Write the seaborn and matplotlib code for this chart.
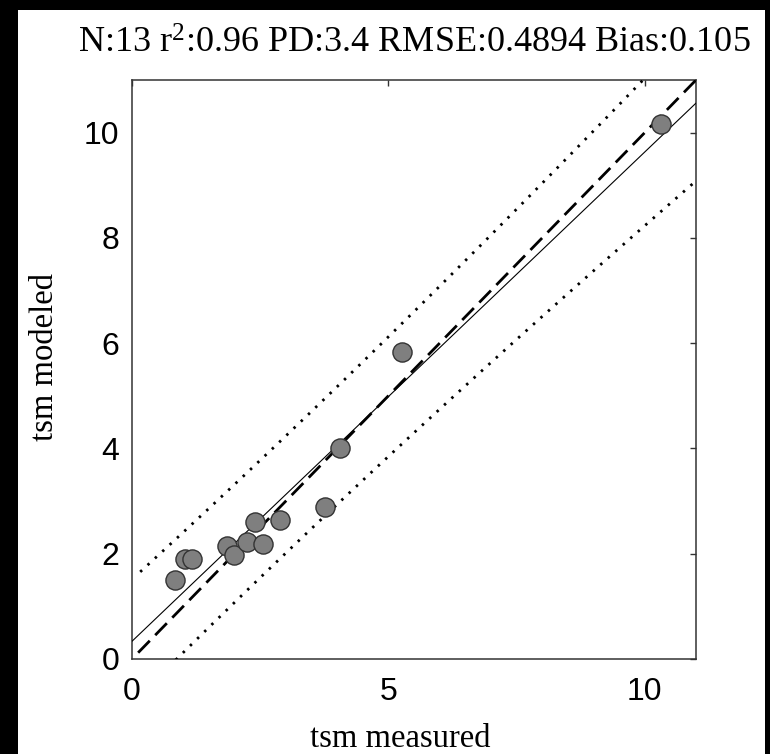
import numpy as np
import pandas as pd
import matplotlib
matplotlib.use("Agg")
import matplotlib.pyplot as plt
from matplotlib.patches import Rectangle
import seaborn as sns

# ---- data ----
measured = [0.84, 1.04, 1.17, 1.86, 1.99, 2.24, 2.40, 2.56, 2.89, 3.77, 4.06, 5.27, 10.31]
modeled = [1.50, 1.90, 1.90, 2.14, 1.97, 2.22, 2.60, 2.18, 2.64, 2.88, 4.00, 5.83, 10.17]
title_text = r"N:13 r$^{2}$:0.96 PD:3.4 RMSE:0.4894 Bias:0.105"
x_label = "tsm measured"
y_label = "tsm modeled"
x_ticks = [0, 5, 10]
y_ticks = [0, 2, 4, 6, 8, 10]
t_crit = 2.201  # Student t (0.975, n-2) for the 95% prediction bounds

sns.set_theme(style="white")
plt.rcParams["font.family"] = ["Liberation Serif", "DejaVu Serif"]
plt.rcParams["mathtext.fontset"] = "custom"
plt.rcParams["mathtext.rm"] = "Liberation Serif"
plt.rcParams["mathtext.it"] = "Liberation Serif:italic"

df = pd.DataFrame({"measured": measured, "modeled": modeled})

W, H = 770, 754
fig = plt.figure(figsize=(W / 100, H / 100), dpi=100, facecolor="black")
fig.patches.append(Rectangle((18 / W, 0), (765 - 18) / W, (H - 10) / H,
                             transform=fig.transFigure, facecolor="white",
                             edgecolor="none", zorder=-10))

ax_l, ax_r, ax_t, ax_b = 132, 696, 80, 659
ax = fig.add_axes([ax_l / W, (H - ax_b) / H, (ax_r - ax_l) / W, (ax_b - ax_t) / H])
ax.set_facecolor("white")

# regression and prediction bounds
x = np.asarray(measured)
y = np.asarray(modeled)
n = len(x)
slope, intercept = np.polyfit(x, y, 1)
resid = y - (slope * x + intercept)
s = np.sqrt(np.sum(resid ** 2) / (n - 2))
sxx = np.sum((x - x.mean()) ** 2)

xf = np.linspace(0, 11, 200)
ax.plot(xf, slope * xf + intercept, color="black", lw=0.8, zorder=3)

xb = np.linspace(0.16, 11, 300)
w = t_crit * s * np.sqrt(1 + 1 / n + (xb - x.mean()) ** 2 / sxx)
for sign in (1, -1):
    ln, = ax.plot(xb, slope * xb + intercept + sign * w, color="black", lw=2.0, zorder=3)
    ln.set_dashes((0.9, 2.7))
    ln.set_dash_capstyle("butt")

x11 = np.array([0.12, 11.0])
ln, = ax.plot(x11, x11, color="black", lw=2.0, zorder=3)
ln.set_dashes((6, 2.8))
ln.set_dash_capstyle("butt")

sns.scatterplot(data=df, x="measured", y="modeled", ax=ax, s=190, marker="o",
                color="#7f7f7f", edgecolor="#333333", linewidth=1.0, zorder=4)

ax.set_xlim(0, 11)
ax.set_ylim(0, 11)
ax.set_xticks(x_ticks)
ax.set_yticks(y_ticks)
ax.tick_params(axis="both", direction="in", length=4, width=1, color="#333333",
               top=True, right=True, labelsize=23, labelcolor="black")
ax.tick_params(axis="x", pad=13)
ax.tick_params(axis="y", pad=9)
for lab in ax.get_xticklabels() + ax.get_yticklabels():
    lab.set_fontfamily(["Liberation Sans", "DejaVu Sans"])
for sp in ax.spines.values():
    sp.set_visible(True)
    sp.set_color("#333333")
    sp.set_linewidth(1.1)

ax.set_xlabel(x_label, fontsize=23.5, color="black")
ax.set_ylabel(y_label, fontsize=23.5, color="black")
ax.xaxis.label.set_va("baseline")
ax.xaxis.set_label_coords((400 - ax_l) / (ax_r - ax_l), (ax_b - 747) / (ax_b - ax_t))
ax.yaxis.label.set_va("baseline")
ax.yaxis.set_label_coords((53 - ax_l) / (ax_r - ax_l), (ax_b - 357) / (ax_b - ax_t))

fig.text(((ax_l + ax_r) / 2) / W, (H - 53) / H, title_text, ha="center",
         va="baseline", fontsize=26, color="black")

fig.savefig("out.png", dpi=100, facecolor="black")
